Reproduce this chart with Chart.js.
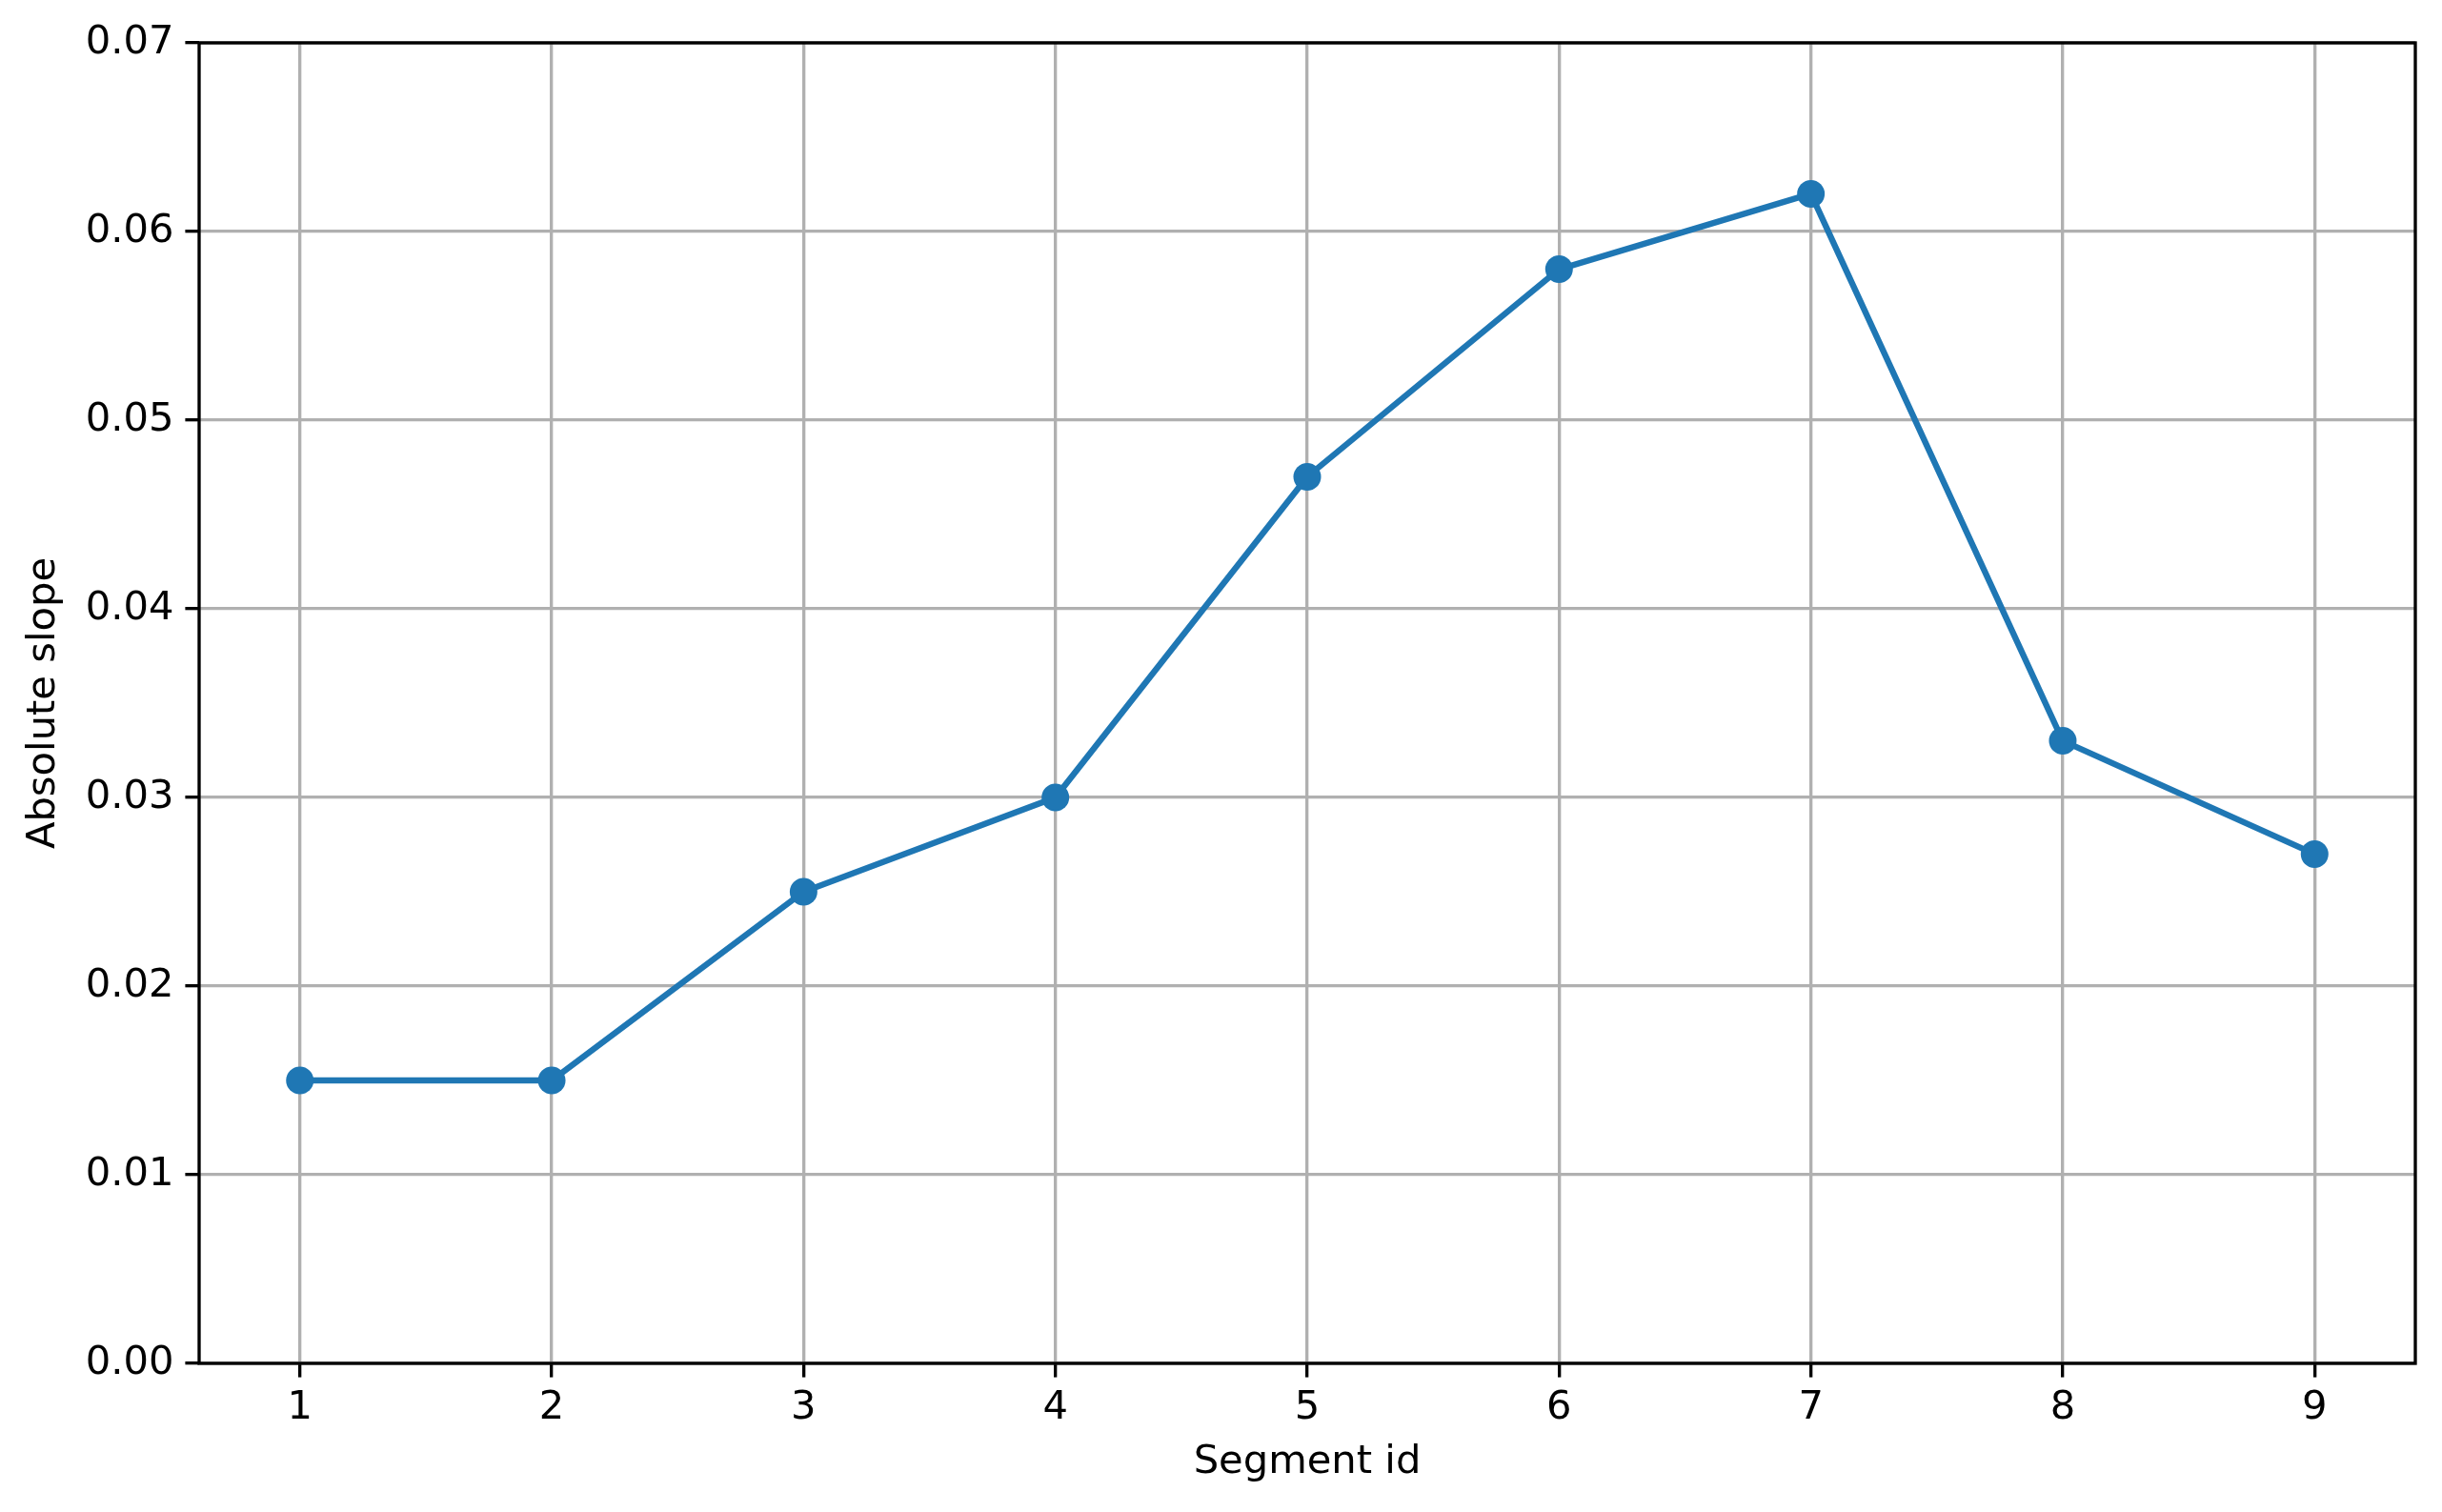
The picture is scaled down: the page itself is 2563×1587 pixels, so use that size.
<!DOCTYPE html>
<html>
<head>
<meta charset="utf-8">
<script src="https://cdn.jsdelivr.net/npm/chart.js@4/dist/chart.umd.min.js"></script>
<style>
  html, body { margin: 0; padding: 0; background: #fff; }
  #wrap { width: 2563px; height: 1587px; }
</style>
</head>
<body>
<div id="wrap"><canvas id="slopeChart" width="2563" height="1587"></canvas></div>
<script>
// Data
const segmentIds = [1, 2, 3, 4, 5, 6, 7, 8, 9];
const absSlope = [0.015, 0.015, 0.025, 0.030, 0.047, 0.058, 0.062, 0.033, 0.027];
const yTicks = [0, 0.01, 0.02, 0.03, 0.04, 0.05, 0.06, 0.07];

const FONT = { family: 'DejaVu Sans', size: 41.67 };
const BLUE = '#1f77b4';

// Draw all four spines like matplotlib
const frame = {
    id: 'frame',
    afterDraw(chart) {
        const { ctx, chartArea: a } = chart;
        ctx.save();
        ctx.strokeStyle = '#000';
        ctx.lineWidth = 3.33;
        ctx.strokeRect(a.left, a.top, a.right - a.left, a.bottom - a.top);
        ctx.restore();
    }
};

const ctx = document.getElementById('slopeChart').getContext('2d');
new Chart(ctx, {
    type: 'line',
    data: {
        datasets: [{
            data: segmentIds.map((x, i) => ({ x: x, y: absSlope[i] })),
            borderColor: BLUE,
            backgroundColor: BLUE,
            borderWidth: 6.4,
            pointRadius: 14.5,
            pointBorderWidth: 0,
            pointBackgroundColor: BLUE,
            tension: 0,
            fill: false
        }]
    },
    options: {
        responsive: false,
        animation: false,
        devicePixelRatio: 1,
        layout: { padding: { top: 45, right: 28, left: 0, bottom: 0 } },
        plugins: { legend: { display: false }, tooltip: { enabled: false } },
        scales: {
            x: {
                type: 'linear',
                min: 0.6,
                max: 9.4,
                afterBuildTicks: s => { s.ticks = segmentIds.map(v => ({ value: v })); },
                afterFit: s => { s.height = 156; },
                grid: { color: '#b0b0b0', lineWidth: 3.33, tickColor: '#000', tickLength: 14.6 },
                border: { display: false },
                ticks: { color: '#000', font: FONT, padding: 8, maxRotation: 0,
                         callback: v => String(v) },
                title: { display: true, text: 'Segment id', color: '#000', font: FONT,
                         padding: { top: 0, bottom: 27 } }
            },
            y: {
                min: 0,
                max: 0.07,
                afterBuildTicks: s => { s.ticks = yTicks.map(v => ({ value: v })); },
                afterFit: s => { s.width = 209; },
                grid: { color: '#b0b0b0', lineWidth: 3.33, tickColor: '#000', tickLength: 14.6 },
                border: { display: false },
                ticks: { color: '#000', font: FONT, padding: 12,
                         callback: v => v.toFixed(2) },
                title: { display: true, text: 'Absolute slope', color: '#000', font: FONT,
                         padding: { top: 21, bottom: 0 } }
            }
        }
    },
    plugins: [frame]
});
</script>
</body>
</html>
